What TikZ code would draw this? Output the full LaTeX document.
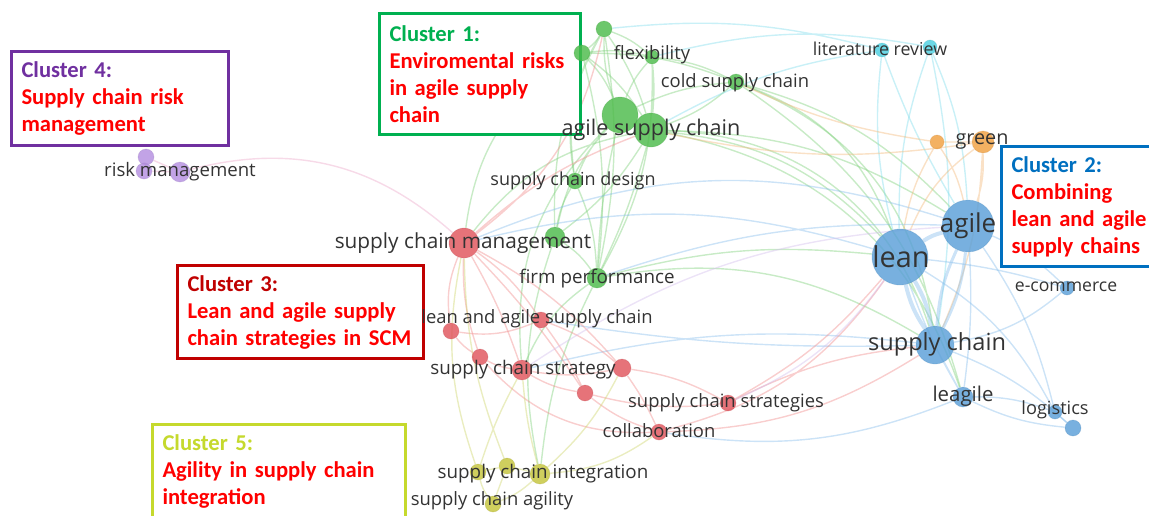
\documentclass[tikz,border=0pt]{standalone}
\usepackage{fontspec}
\setmainfont{Open Sans}
\newfontfamily\boxfont{Carlito}

\definecolor{cgreen}{HTML}{4CBB4A}
\definecolor{cred}{HTML}{E0545C}
\definecolor{cblue}{HTML}{5A9FD8}
\definecolor{ccyan}{HTML}{4CCFE0}
\definecolor{corange}{HTML}{F0A040}
\definecolor{cpurple}{HTML}{B48FE0}
\definecolor{cyellow}{HTML}{C4C43A}
\definecolor{lgreen}{HTML}{7CCF78}
\definecolor{lred}{HTML}{F08A8A}
\definecolor{lblue}{HTML}{86BDEB}
\definecolor{lcyan}{HTML}{7FDCEB}
\definecolor{lorange}{HTML}{F2B878}
\definecolor{lyellow}{HTML}{CDD46A}
\definecolor{lpink}{HTML}{EBA6C8}
\definecolor{lblgray}{HTML}{333333}
\definecolor{bgreen}{HTML}{00B050}
\definecolor{bblue}{HTML}{0070C0}
\definecolor{bred}{HTML}{C00000}
\definecolor{bpurple}{HTML}{7030A0}
\definecolor{byellow}{HTML}{C5D92D}
\definecolor{tred}{HTML}{FF0000}

\pgfdeclarelayer{links}
\pgfdeclarelayer{boxes}
\pgfsetlayers{links,boxes,main}

\tikzset{
	kw/.style={circle, inner sep=0pt, fill=#1, fill opacity=0.82, draw=#1!80!black, draw opacity=0.2},
	lbl/.style={text=lblgray, inner sep=0pt, font=\fontsize{#1}{#1}\selectfont},
	link/.style={line width=0.7pt, draw opacity=0.42},
	cbox/.style={draw=#1, line width=1.5pt, fill=white, anchor=north west, align=left,
		inner xsep=5pt, inner ysep=4pt, font=\boxfont\bfseries\fontsize{11.3}{13.5}\selectfont, text=tred},
}

\begin{document}
\begin{tikzpicture}[x=0.5pt, y=-0.5pt]
	\useasboundingbox (0,0) rectangle (1149,515);

	% keywords
	\node [kw=cgreen, minimum size=8pt] (g1) at (604,29) {};
	\node [kw=cgreen, minimum size=8pt] (g2) at (582,53) {};
	\node [kw=cgreen, minimum size=7pt] (flex) at (652,57) {};
	\node [kw=cgreen, minimum size=8pt] (cold) at (736,82) {};
	\node [kw=cgreen, minimum size=18pt] (asca) at (620,115) {};
	\node [kw=cgreen, minimum size=17pt] (ascb) at (651,130) {};
	\node [kw=cgreen, minimum size=8pt] (scd) at (575,181) {};
	\node [kw=cgreen, minimum size=10pt] (g3) at (555,237) {};
	\node [kw=cgreen, minimum size=10pt] (firm) at (597,278) {};

	\node [kw=cred, minimum size=15pt] (scm) at (464,243) {};
	\node [kw=cred, minimum size=8pt] (lasc) at (541,320) {};
	\node [kw=cred, minimum size=8pt] (r1) at (451,331) {};
	\node [kw=cred, minimum size=8pt] (r2) at (480,357) {};
	\node [kw=cred, minimum size=10pt] (scs) at (522,370) {};
	\node [kw=cred, minimum size=9pt] (r3) at (622,368) {};
	\node [kw=cred, minimum size=8pt] (r4) at (585,393) {};
	\node [kw=cred, minimum size=8pt] (strat) at (728,403) {};
	\node [kw=cred, minimum size=8pt] (collab) at (659,432) {};

	\node [kw=cyellow, minimum size=8pt] (y1) at (478,472) {};
	\node [kw=cyellow, minimum size=8pt] (y2) at (507,466) {};
	\node [kw=cyellow, minimum size=10pt] (sci) at (540,474) {};
	\node [kw=cyellow, minimum size=8pt] (sca) at (493,504) {};

	\node [kw=cpurple, minimum size=8pt] (risk1) at (146,157) {};
	\node [kw=cpurple, minimum size=8pt] (risk2) at (144,171) {};
	\node [kw=cpurple, minimum size=10pt] (risk3) at (180,172) {};

	\node [kw=ccyan, minimum size=7pt] (lit1) at (882,50) {};
	\node [kw=ccyan, minimum size=7pt] (lit2) at (930,47) {};

	\node [kw=corange, minimum size=7pt] (grn1) at (937,142) {};
	\node [kw=corange, minimum size=11pt] (grn2) at (983,142) {};

	\node [kw=cblue, minimum size=28pt] (lean) at (900,257) {};
	\node [kw=cblue, minimum size=26pt] (agile) at (968,226) {};
	\node [kw=cblue, minimum size=7pt] (ecom) at (1067,288) {};
	\node [kw=cblue, minimum size=19pt] (sc) at (935,345) {};
	\node [kw=cblue, minimum size=10pt] (leagile) at (963,397) {};
	\node [kw=cblue, minimum size=7pt] (logi) at (1055,412) {};
	\node [kw=cblue, minimum size=8pt] (blu) at (1073,428) {};

	% links
	\begin{pgfonlayer}{links}
		\begin{scope}[link, lgreen]
			\draw (g1) to[bend left=10] (g2) (g1) to[bend left=10] (flex) (g1) to[bend right=10] (asca) (g1) to[bend left=8] (ascb);
			\draw (g1) to[bend right=15] (g3) (g1) to[bend left=10] (firm) (g1) to[bend right=20] (scd);
			\draw (g2) to[bend left=10] (flex) (g2) to[bend left=10] (asca) (g2) to[bend left=10] (ascb) (g2) to[bend right=10] (scd);
			\draw (g2) to[bend left=10] (firm) (g2) to[bend left=10] (cold) (g2) to[bend right=25] (scm);
			\draw (flex) to[bend right=10] (asca) (flex) to[bend left=5] (ascb) (flex) to[bend left=10] (cold) (flex) to[bend left=15] (firm);
			\draw (cold) to[bend right=10] (asca) (cold) to[bend left=10] (ascb) (cold) to[bend left=25] (lean) (cold) to[bend left=15] (agile);
			\draw (cold) to[bend left=30] (sc) (cold) to[bend left=20] (leagile);
			\draw (asca) to (ascb) (asca) to[bend right=10] (scd) (asca) to[bend right=15] (g3) (asca) to[bend right=5] (firm);
			\draw (ascb) to[bend left=10] (g3) (ascb) to[bend left=5] (firm) (ascb) to[bend left=20] (lean) (ascb) to[bend left=15] (agile);
			\draw (ascb) to[bend left=35] (sc) (ascb) to[bend right=20] (scm) (ascb) to[bend left=30] (leagile) (asca) to[bend right=25] (scs);
			\draw (scd) to[bend right=10] (g3) (scd) to[bend left=10] (firm) (g3) to[bend left=10] (firm) (g3) to[bend right=15] (sci);
			\draw (firm) to[bend left=20] (sc) (firm) to[bend left=10] (lean) (firm) to[bend right=10] (sci) (firm) to[bend right=15] (scs);
		\end{scope}

		\begin{scope}[link, lcyan]
			\draw (lit1) to[bend right=10] (g1) (lit2) to[bend right=12] (flex) (lit1) to[bend right=10] (ascb);
			\draw (lit1) to[bend right=10] (lean) (lit1) to[bend right=5] (agile) (lit2) to[bend left=10] (agile);
			\draw (lit2) to[bend right=10] (lean) (lit2) to[bend left=10] (sc);
		\end{scope}

		\begin{scope}[link, lorange]
			\draw (grn1) to[bend right=10] (lean) (grn1) to[bend left=10] (agile) (grn2) to[bend right=15] (lean);
			\draw (grn2) to[bend left=10] (agile) (grn1) to (grn2) (grn2) to[bend left=10] (sc);
			\draw (grn1) to[bend left=8] (cold) (grn2) to[bend left=10] (ascb);
		\end{scope}

		\begin{scope}[link, lblue]
			\draw[line width=2pt] (lean) to[bend left=10] (agile) (lean) to[bend left=10] (sc) (lean) to[bend right=10] (sc);
			\draw[line width=1.5pt] (agile) to[bend left=10] (sc) (agile) to[bend right=10] (sc);
			\draw (lean) to[bend right=5] (leagile) (agile) to[bend left=5] (leagile) (sc) to (leagile);
			\draw (leagile) to[bend left=10] (logi) (leagile) to[bend right=10] (blu) (logi) to (blu);
			\draw (agile) to[bend left=10] (ecom) (lean) to[bend left=5] (ecom) (sc) to[bend right=15] (ecom);
			\draw (agile) to[bend left=10] (logi) (lean) to[bend left=15] (logi) (sc) to[bend left=10] (blu);
			\draw (lean) to[bend right=15] (scm) (agile) to[bend right=20] (scm) (agile) to[bend right=10] (firm);
			\draw (sc) to[bend right=10] (scs) (sc) to[bend left=5] (lasc) (leagile) to[bend left=15] (collab);
		\end{scope}

		\begin{scope}[link, lred]
			\draw (scm) to[bend left=10] (lasc) (scm) to[bend right=15] (r1) (scm) to[bend right=10] (r2) (scm) to[bend left=5] (scs);
			\draw (scm) to[bend left=10] (r3) (scm) to[bend left=5] (r4) (scm) to[bend right=20] (g1) (scm) to[bend left=10] (ascb);
			\draw (r1) to[bend right=10] (r2) (r2) to[bend right=10] (scs) (scs) to[bend right=10] (r3) (scs) to[bend right=10] (r4);
			\draw (r4) to[bend right=10] (collab) (r3) to[bend left=10] (strat) (r3) to[bend left=5] (collab) (r4) to[bend right=10] (strat);
			\draw (lasc) to[bend left=10] (r3) (lasc) to[bend left=5] (r4) (r1) to[bend right=15] (lasc) (strat) to[bend right=10] (lean);
			\draw (collab) to[bend right=15] (sc) (strat) to[bend left=10] (sc) (collab) to[bend right=20] (lean) (r2) to[bend right=25] (collab);
		\end{scope}

		\begin{scope}[link, lyellow]
			\draw (y1) to (y2) (y2) to (sci) (y1) to[bend right=10] (sca) (sca) to[bend right=10] (sci) (y2) to (sca);
			\draw (y1) to[bend left=5] (scs) (y2) to[bend left=10] (scm) (sci) to[bend right=15] (collab) (sci) to[bend left=5] (scs);
			\draw (y1) to[bend left=15] (scm) (sci) to[bend right=10] (r3);
		\end{scope}

		\begin{scope}[link, lpink]
			\draw (risk1) to (risk2) (risk2) to (risk3) (risk1) to (risk3);
			\draw (risk3) to[bend left=28] (scm);
			\draw[cpurple!60] (strat) to[bend right=15] (lean) (scs) to[bend left=15] (agile);
		\end{scope}
	\end{pgfonlayer}

	% cluster boxes
	\begin{pgfonlayer}{boxes}
		\node [cbox=bgreen, text width=90.5pt, minimum height=60.5pt] (box1) at (378,12)
			{\textcolor{bgreen}{Cluster 1:}\\Enviromental risks\\in agile supply\\chain};
		\node [cbox=bblue, text width=80pt, minimum height=60pt] (box2) at (1000,145)
			{\textcolor{bblue}{Cluster 2:}\\Combining\\lean and agile\\supply chains};
		\node [cbox=bred, text width=113pt, minimum height=46.5pt] (box3) at (176,264)
			{\textcolor{bred}{Cluster 3:}\\Lean and agile supply\\chain strategies in SCM};
		\node [cbox=bpurple, text width=98.5pt, minimum height=47pt] (box4) at (10,50)
			{\textcolor{bpurple}{Cluster 4:}\\Supply chain risk\\management};
		\node [cbox=byellow, text width=116.5pt, minimum height=47pt] (box5) at (151,423)
			{\textcolor{byellow}{Cluster 5:}\\Agility in supply chain\\integration};
	\end{pgfonlayer}

	% labels
	\node [lbl=9.2] (lflex) at (652,55) {flexibility};
	\node [lbl=9.2] (lcold) at (735,83) {cold supply chain};
	\node [lbl=10.8] (lasc) at (651,130) {agile supply chain};
	\node [lbl=9] (lscd) at (573,181) {supply chain design};
	\node [lbl=10.4] (lscm) at (463,243) {supply chain management};
	\node [lbl=9.4] (lfirm) at (597,279) {firm performance};
	\node [lbl=9.2] (llasc) at (537,319) {lean and agile supply chain};
	\node [lbl=9.4] (lscs) at (523,370) {supply chain strategy};
	\node [lbl=9.2] (lstrat) at (726,403) {supply chain strategies};
	\node [lbl=9.2] (lcollab) at (659,431) {collaboration};
	\node [lbl=9.4] (lsci) at (543,474) {supply chain integration};
	\node [lbl=9.2] (lsca) at (492,501) {supply chain agility};
	\node [lbl=9.3] (lrisk) at (180,172) {risk management};
	\node [lbl=8.9] (llit) at (880,49) {literature review};
	\node [lbl=9.9] (lgrn) at (982,141) {green};
	\node [lbl=14.4] (llean) at (901,257) {lean};
	\node [lbl=13] (lagile) at (968,226) {agile};
	\node [lbl=8.8] (lecom) at (1066,287) {e-commerce};
	\node [lbl=11.8] (lsc) at (937,344) {supply chain};
	\node [lbl=10.2] (lleagile) at (963,396) {leagile};
	\node [lbl=9.1] (llogi) at (1055,410) {logistics};
\end{tikzpicture}
\end{document}
